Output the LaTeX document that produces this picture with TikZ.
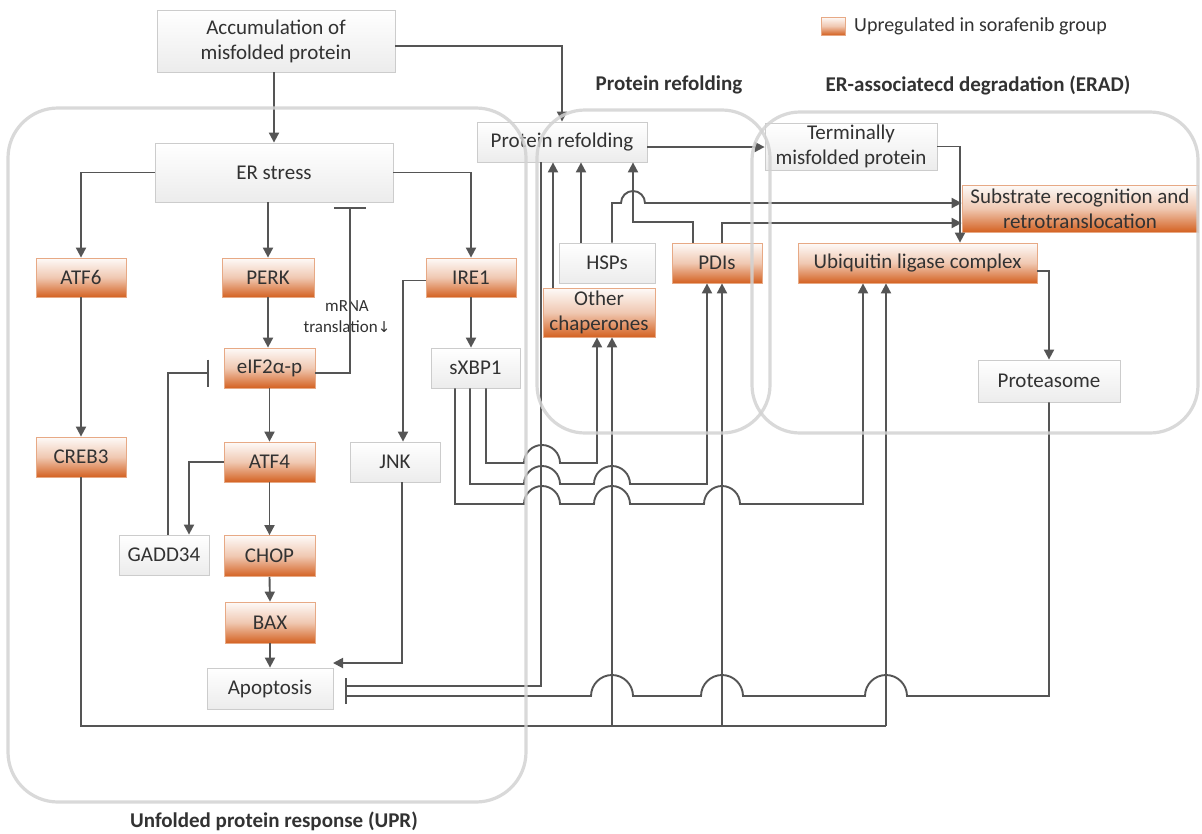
\documentclass[tikz,border=0pt]{standalone}
\usepackage{fontspec}
\setmainfont{Carlito}
\newfontfamily\symfont{DejaVu Sans}
\usetikzlibrary{arrows.meta,calc}
\definecolor{orng}{RGB}{212,98,34}
\definecolor{lnc}{RGB}{85,85,85}
\definecolor{txc}{RGB}{50,50,50}
\definecolor{grp}{RGB}{210,210,210}
% rightward hop over a vertical line at x=#1 on the horizontal line y=#2, radius #3
\newcommand{\hopat}[3]{-- ({#1-#3},#2) .. controls ({#1-#3},{#2-0.55*#3}) and ({#1-0.55*#3},{#2-#3}) .. (#1,{#2-#3}) .. controls ({#1+0.55*#3},{#2-#3}) and ({#1+#3},{#2-0.55*#3}) .. ({#1+#3},#2)}
\begin{document}
\begin{tikzpicture}[x=1pt,y=-1pt,
  font=\fontsize{21}{25}\selectfont,
  plain/.style={draw=gray!40, line width=0.8pt, top color=white, bottom color=gray!15, inner sep=0pt, text=txc, align=center},
  upreg/.style={draw=orng!55, line width=0.8pt, top color=orng!3, bottom color=orng, middle color=orng!35, inner sep=0pt, text=txc, align=center},
  con/.style={draw=lnc, line width=1.9pt},
  arr/.style={con, -{Triangle[length=10pt,width=10pt]}},
  inh/.style={con, -{Bar[width=#1]}},
  grpbox/.style={draw=grp, line width=3.2pt, opacity=0.85},
  grplabel/.style={font=\fontsize{21}{25}\selectfont\bfseries, text=txc},
  small/.style={font=\fontsize{17}{21}\selectfont, text=txc, align=center, inner sep=0pt}]
\useasboundingbox (0,0) rectangle (1202,833);

% ---- nodes
\node[plain, minimum width=238pt, minimum height=62pt] (acc) at (276,41) {Accumulation of\\misfolded protein};
\node[plain, minimum width=238pt, minimum height=59pt] (er) at (274,172.5) {ER stress};
\node[upreg, minimum width=90pt, minimum height=39pt] (atf6) at (81,277.5) {ATF6};
\node[upreg, minimum width=92pt, minimum height=39pt] (perk) at (268,277.5) {PERK};
\node[upreg, minimum width=90pt, minimum height=39pt] (ire1) at (471,277.5) {IRE1};
\node[upreg, minimum width=91pt, minimum height=40pt] (eif) at (269.5,368) {eIF2α-p};
\node[upreg, minimum width=91pt, minimum height=40pt] (atf4) at (269.5,462) {ATF4};
\node[upreg, minimum width=90pt, minimum height=40pt] (creb3) at (81,457) {CREB3};
\node[plain, minimum width=90pt, minimum height=40pt] (jnk) at (395,462) {JNK};
\node[plain, minimum width=89pt, minimum height=40pt] (sxbp1) at (475.5,368) {sXBP1};
\node[plain, minimum width=90pt, minimum height=40pt] (gadd) at (164,555) {GADD34};
\node[upreg, minimum width=91pt, minimum height=41pt] (chop) at (269.5,556) {CHOP};
\node[upreg, minimum width=90pt, minimum height=41pt] (bax) at (270,622.5) {BAX};
\node[plain, minimum width=126pt, minimum height=41pt] (apop) at (270,688.5) {Apoptosis};
\node[plain, minimum width=170pt, minimum height=40pt] (pr) at (562,142) {Protein refolding};
\node[plain, minimum width=96pt, minimum height=40pt] (hsps) at (607,263) {HSPs};
\node[upreg, minimum width=90pt, minimum height=40pt] (pdis) at (717,263) {PDIs};
\node[upreg, minimum width=112pt, minimum height=49pt] (other) at (599,312.5) {Other\\chaperones};
\node[plain, minimum width=172pt, minimum height=47pt] (term) at (851,146.5) {Terminally\\misfolded protein};
\node[upreg, minimum width=236pt, minimum height=47pt] (sub) at (1080,208.5) {Substrate recognition and\\retrotranslocation};
\node[upreg, minimum width=239pt, minimum height=40pt] (ubi) at (917.5,263) {Ubiquitin ligase complex};
\node[plain, minimum width=142pt, minimum height=42pt] (prot) at (1049,381) {Proteasome};

% legend and group labels
\node[upreg, minimum width=24pt, minimum height=18pt] (leg) at (833,26) {};
\node[anchor=west, inner sep=0pt, font=\fontsize{20}{24}\selectfont, text=txc] (legt) at (854,26) {Upregulated in sorafenib group};
\node[grplabel] (lpr) at (669,85) {Protein refolding};
\node[grplabel] (lerad) at (978,85) {ER-associatecd degradation (ERAD)};
\node[grplabel] (lupr) at (274,821) {Unfolded protein response (UPR)};
\node[small] (mrna) at (347,317) {mRNA\\translation{\symfont\fontsize{15}{21}\selectfont ↓}};

% ---- UPR connectors
\draw[arr] (acc.south -| er.north) -- (er.north);
\draw[arr] ($(acc.east)+(0,5)$) -| (pr.north);
\draw[arr] (er.west) -| (atf6.north);
\draw[arr] (er.south -| perk.north) -- (perk.north);
\draw[arr] (er.east) -| (ire1.north);
\draw[arr] (atf6.south) -- (creb3.north);
\draw[arr] (perk.south) -- (perk.south |- eif.north);
\draw[arr] (eif.south) -- (atf4.north);
\draw[arr] (atf4.south) -- (chop.north);
\draw[arr] (chop.south) -- (bax.north);
\draw[arr] (bax.south) -- (apop.north);
\coordinate (erbar) at (350,207);
\draw[inh=32pt] ($(eif.east)+(0,5)$) -| (erbar);
\draw[arr] (atf4.west) -| ($(gadd.north)+(25,0)$);
\coordinate (eifbar) at (209,373);
\draw[inh=27pt] ($(gadd.north)+(4,0)$) |- (eifbar);
\draw[arr] ($(ire1.west)+(0,3)$) -| ($(jnk.north)+(8,0)$);
\draw[arr] (ire1.south) -- (ire1.south |- sxbp1.north);
\coordinate (apin) at (333,663);
\draw[arr] ($(jnk.south)+(7,0)$) |- (apin);
\coordinate (apbar1) at (345,686);
\coordinate (apbar2) at (345,696);
\draw[inh=16pt] ($(pr.south)+(-21,0)$) |- (apbar1);
\draw[con, {Bar[width=16pt]}-] (apbar2) \hopat{612}{696}{21} \hopat{722}{696}{21} \hopat{886}{696}{21} -| (prot.south);

% CREB3 branches
\coordinate (c1) at (612,726);
\coordinate (c2) at (722,726);
\coordinate (c3) at (886,726);
\draw[con] (creb3.south) |- (c3);
\draw[arr] (c1) -- ($(other.south)+(13,0)$);
\draw[arr] (c2) -- ($(pdis.south)+(5,0)$);
\draw[arr] (c3) -- ($(ubi.south)+(-31.5,0)$);

% sXBP1 branches
\draw[arr] ($(sxbp1.south)+(10.5,0)$) -- (486,463) \hopat{542}{463}{18} -| ($(other.south)+(-2,0)$);
\draw[arr] ($(sxbp1.south)+(-5.5,0)$) -- (470,484) \hopat{542}{484}{18} \hopat{612}{484}{18} -| ($(pdis.south)+(-10,0)$);
\draw[arr] ($(sxbp1.south)+(-20.5,0)$) -- (455,504) \hopat{542}{504}{18} \hopat{612}{504}{18} \hopat{722}{504}{18} -| ($(ubi.south)+(-54.5,0)$);

% protein refolding connectors
\draw[arr] ($(other.north)+(-46,0)$) -- ($(pr.south)+(-9,0)$);
\draw[arr] ($(hsps.north)+(-26,0)$) -- ($(pr.south)+(19,0)$);
\draw[arr] ($(pdis.north)+(-24,0)$) -- (693,222) -| ($(pr.south)+(71,0)$);
\draw[arr] ($(hsps.north)+(5,0)$) -- (612,203) \hopat{633}{203}{12} -- ($(sub.west)+(0,-5.5)$);
\draw[arr] ($(pdis.north)+(5,0)$) |- ($(sub.west)+(0,14.5)$);
\draw[arr] ($(pr.east)+(0,5)$) -- ($(term.west)+(0,0.5)$);
\draw[arr] (term.east) -| ($(ubi.north)+(42.5,0)$);
\draw[arr] ($(ubi.east)+(0,8)$) -| (prot.north);

% ---- group outlines
\draw[grpbox, rounded corners=50pt] (8,108) rectangle (526,802);
\draw[grpbox, rounded corners=48pt] (537,110) rectangle (770,433);
\draw[grpbox, rounded corners=48pt] (752,112) rectangle (1198,433);
\end{tikzpicture}
\end{document}
